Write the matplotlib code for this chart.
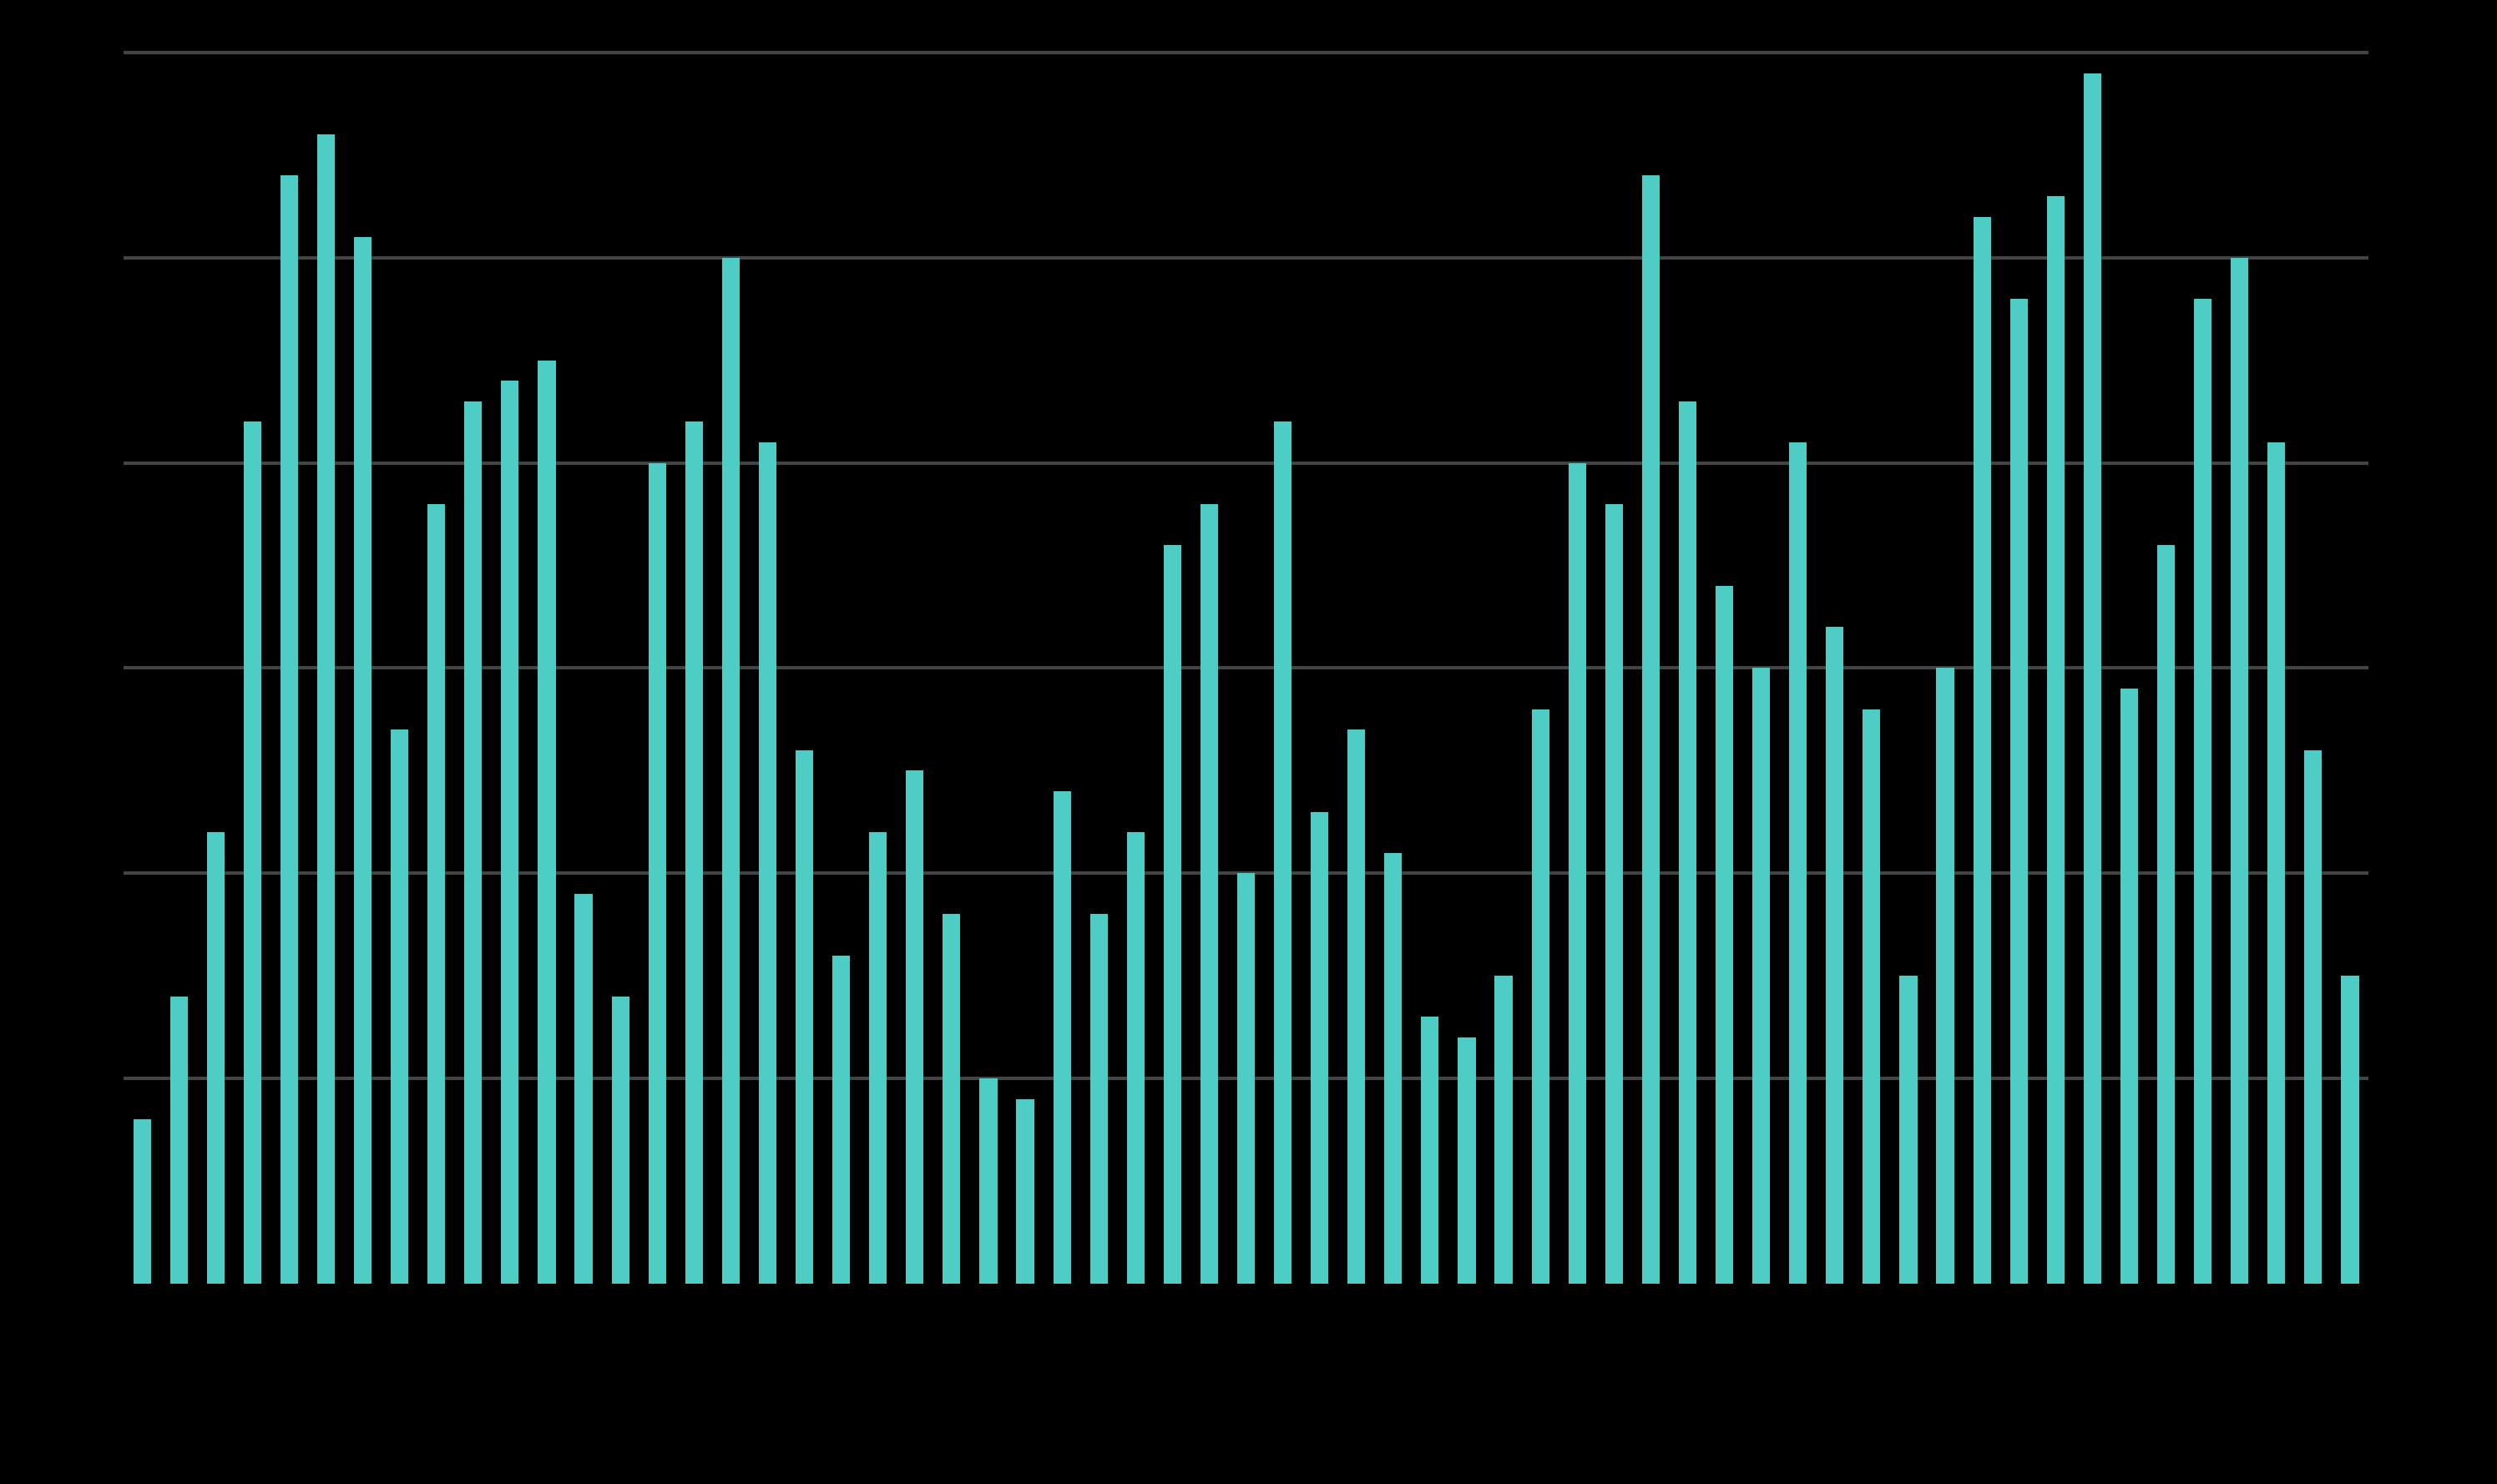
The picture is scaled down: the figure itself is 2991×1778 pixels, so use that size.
import numpy as np
import matplotlib
matplotlib.use('Agg')
import matplotlib.pyplot as plt

# bar heights (gridline step = 10)
values = [8, 14, 22, 42, 54, 56, 51, 27, 38, 43, 44, 45, 19, 14, 40, 42,
          50, 41, 26, 16, 22, 25, 18, 10, 9, 24, 18, 22, 36, 38, 20, 42,
          23, 27, 21, 13, 12, 15, 28, 40, 38, 54, 43, 34, 30, 41, 32, 28,
          15, 30, 52, 48, 53, 59, 29, 36, 48, 50, 41, 26, 15]
gridlines = [10, 20, 30, 40, 50, 60]

BAR_COLOR = '#4ECDC4'
GRID_COLOR = '#444444'

fig = plt.figure(figsize=(14.955, 8.89), dpi=200, facecolor='black')
ax = fig.add_axes([0.0495, 0.135, 0.899, 0.8434])
ax.set_facecolor('black')

x = np.arange(len(values))
for g in gridlines:
    ax.axhline(g, color=GRID_COLOR, linewidth=1.5, zorder=1)
ax.bar(x, values, width=0.48, color=BAR_COLOR, zorder=2)

ax.set_xlim(-0.5, len(values) - 0.5)
ax.set_ylim(0, 61)
ax.set_xticks([])
ax.set_yticks([])
for s in ax.spines.values():
    s.set_visible(False)

fig.savefig('out.png', dpi=200, facecolor='black')
